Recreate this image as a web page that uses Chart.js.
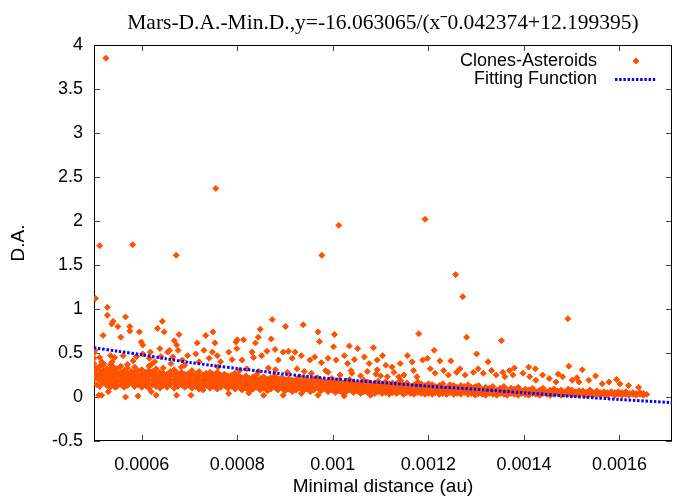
<!DOCTYPE html>
<html>
<head>
<meta charset="utf-8">
<script src="https://cdn.jsdelivr.net/npm/chart.js@4.4.0/dist/chart.umd.min.js"></script>
<style>
  html, body { margin: 0; padding: 0; background: #ffffff; }
  canvas { display: block; }
</style>
</head>
<body>
<canvas id="c" width="677" height="496"></canvas>
<script>
// ---------------- data ----------------
const chartTitle = 'Mars-D.A.-Min.D.,y=-16.063065/(x\u02C90.042374+12.199395)';
const xAxisLabel = 'Minimal distance (au)';
const yAxisLabel = 'D.A.';
const seriesNames = ['Clones-Asteroids', 'Fitting Function'];

// isolated high values  [minimal distance, D.A.]
const outlierPoints = [
  [5.25e-4, 3.85], [5.12e-4, 1.72], [5.81e-4, 1.73], [6.72e-4, 1.61], [7.55e-4, 2.37],
  [9.77e-4, 1.61], [1.0125e-3, 1.95], [1.193e-3, 2.02], [1.257e-3, 1.39], [1.272e-3, 1.14],
  [1.492e-3, 0.89], [5.03e-4, 1.12]
];

// sparse points above the dense band
const upperPoints = [
  [5.28e-4, 1.02], [5.28e-4, 0.93], [5.40e-4, 0.86], [5.37e-4, 0.83], [5.50e-4, 0.80],
  [5.66e-4, 0.91], [5.75e-4, 0.80], [5.75e-4, 0.75], [5.95e-4, 0.74], [5.19e-4, 0.70],
  [5.56e-4, 0.68], [5.99e-4, 0.625], [6.02e-4, 0.59], [6.18e-4, 0.51], [6.43e-4, 0.86],
  [6.33e-4, 0.78], [6.47e-4, 0.74], [6.78e-4, 0.71], [6.68e-4, 0.64], [6.73e-4, 0.59],
  [6.76e-4, 0.53], [6.38e-4, 0.55], [6.58e-4, 0.53], [7.16e-4, 0.615], [7.34e-4, 0.70],
  [7.49e-4, 0.74], [7.53e-4, 0.615], [7.97e-4, 0.625], [8.00e-4, 0.65], [8.13e-4, 0.65],
  [8.48e-4, 0.77], [8.44e-4, 0.68], [8.38e-4, 0.615], [8.73e-4, 0.88], [8.71e-4, 0.66],
  [9.01e-4, 0.80], [9.38e-4, 0.82], [9.69e-4, 0.74], [9.72e-4, 0.63], [1.0035e-3, 0.71],
  [1.0015e-3, 0.57], [1.0346e-3, 0.58], [1.052e-3, 0.55], [1.085e-3, 0.56],
  [5.02e-4, 0.53], [5.12e-4, 0.45], [5.16e-4, 0.40], [5.35e-4, 0.47], [5.43e-4, 0.45],
  [5.38e-4, 0.40], [5.61e-4, 0.47], [5.82e-4, 0.41], [5.89e-4, 0.46], [6.02e-4, 0.49],
  [6.16e-4, 0.44], [6.27e-4, 0.40], [6.40e-4, 0.46], [6.54e-4, 0.51], [6.65e-4, 0.455],
  [6.61e-4, 0.38], [6.85e-4, 0.42], [6.96e-4, 0.47], [7.13e-4, 0.49], [7.20e-4, 0.40],
  [7.30e-4, 0.53], [7.41e-4, 0.44], [7.48e-4, 0.51], [7.58e-4, 0.47], [7.65e-4, 0.40],
  [7.82e-4, 0.51], [7.89e-4, 0.425], [7.99e-4, 0.55], [8.10e-4, 0.42], [8.31e-4, 0.51],
  [8.34e-4, 0.45], [8.51e-4, 0.47], [8.62e-4, 0.52], [8.79e-4, 0.54], [8.86e-4, 0.42],
  [8.96e-4, 0.51], [9.07e-4, 0.52], [9.21e-4, 0.51], [9.15e-4, 0.44], [9.34e-4, 0.47],
  [9.52e-4, 0.42], [9.62e-4, 0.455], [9.76e-4, 0.39], [9.90e-4, 0.44], [1.007e-3, 0.42],
  [1.024e-3, 0.47], [1.031e-3, 0.38], [1.045e-3, 0.425], [1.066e-3, 0.455], [1.076e-3, 0.38],
  [1.093e-3, 0.42], [1.104e-3, 0.47],
  [5.20e-4, 0.38], [5.70e-4, 0.37], [6.20e-4, 0.37], [6.90e-4, 0.36], [7.60e-4, 0.34],
  [8.20e-4, 0.32], [8.80e-4, 0.31], [9.40e-4, 0.29], [9.90e-4, 0.28], [1.04e-3, 0.27],
  [1.09e-3, 0.26], [8.05e-4, 0.30], [8.45e-4, 0.29], [8.65e-4, 0.33], [9.05e-4, 0.28],
  [9.25e-4, 0.32], [9.55e-4, 0.27], [9.85e-4, 0.30], [1.015e-3, 0.25], [1.038e-3, 0.30],
  [1.058e-3, 0.24], [1.072e-3, 0.29], [1.10e-3, 0.24],
  [1.180e-3, 0.72], [1.280e-3, 0.68], [1.353e-3, 0.64], [1.156e-3, 0.47], [1.212e-3, 0.53],
  [1.301e-3, 0.49], [1.166e-3, 0.40], [1.188e-3, 0.42], [1.198e-3, 0.44], [1.224e-3, 0.41],
  [1.247e-3, 0.41], [1.325e-3, 0.40], [1.111e-3, 0.36], [1.124e-3, 0.34], [1.141e-3, 0.38],
  [1.410e-3, 0.34], [1.424e-3, 0.32], [1.380e-3, 0.33], [1.370e-3, 0.30], [1.472e-3, 0.26],
  [1.494e-3, 0.35], [1.522e-3, 0.31], [1.550e-3, 0.24], [1.594e-3, 0.20], [1.601e-3, 0.15],
  [1.511e-3, 0.22], [1.093e-3, 0.31], [1.138e-3, 0.23], [1.142e-3, 0.19],
  [1.114e-3, 0.23], [1.128e-3, 0.28], [1.149e-3, 0.25], [1.169e-3, 0.30], [1.176e-3, 0.23],
  [1.204e-3, 0.32], [1.214e-3, 0.27], [1.232e-3, 0.30], [1.242e-3, 0.25], [1.259e-3, 0.28],
  [1.266e-3, 0.32], [1.277e-3, 0.25], [1.294e-3, 0.28], [1.304e-3, 0.32], [1.315e-3, 0.27],
  [1.332e-3, 0.30], [1.342e-3, 0.25], [1.356e-3, 0.28], [1.360e-3, 0.23], [1.377e-3, 0.25],
  [1.398e-3, 0.27], [1.412e-3, 0.23], [1.425e-3, 0.19], [1.439e-3, 0.25], [1.453e-3, 0.21],
  [1.467e-3, 0.17], [1.481e-3, 0.23], [1.501e-3, 0.19], [1.515e-3, 0.17], [1.536e-3, 0.19],
  [1.564e-3, 0.15], [1.578e-3, 0.17], [1.619e-3, 0.13], [1.640e-3, 0.11]
];

// sparse points below the dense band
const lowPoints = [
  [5.10e-4, 0.02], [5.16e-4, 0.02], [5.30e-4, 0.06], [5.44e-4, 0.11], [5.66e-4, 0.0],
  [5.92e-4, 0.01], [6.20e-4, 0.06], [6.30e-4, 0.02], [6.73e-4, 0.02], [7.03e-4, 0.02],
  [7.28e-4, 0.08], [7.82e-4, 0.04], [8.24e-4, 0.045], [8.55e-4, 0.02], [8.96e-4, 0.02],
  [9.34e-4, 0.04], [9.69e-4, 0.02], [1.024e-3, 0.01], [1.079e-3, 0.02]
];

// dense band: [minimal distance, [D.A. values]]
const bandColumns = [
  [5.00e-4, [0.20, 0.26, 0.31, 0.38, 0.44, 0.50]],
  [5.06e-4, [0.14, 0.22, 0.27, 0.33]],
  [5.12e-4, [0.12, 0.19, 0.24, 0.29, 0.35]],
  [5.19e-4, [0.16, 0.21, 0.26, 0.30, 0.36]],
  [5.27e-4, [0.13, 0.18, 0.23, 0.28, 0.32]],
  [5.34e-4, [0.11, 0.17, 0.22, 0.27, 0.31, 0.37]],
  [5.41e-4, [0.15, 0.20, 0.25, 0.29, 0.34]],
  [5.48e-4, [0.12, 0.18, 0.23, 0.27, 0.32]],
  [5.56e-4, [0.14, 0.19, 0.24, 0.28, 0.35]],
  [5.63e-4, [0.11, 0.17, 0.21, 0.26, 0.30]],
  [5.70e-4, [0.13, 0.18, 0.22, 0.27, 0.33]],
  [5.78e-4, [0.16, 0.20, 0.25, 0.29]],
  [5.85e-4, [0.12, 0.17, 0.23, 0.28, 0.34]],
  [5.92e-4, [0.14, 0.19, 0.24, 0.30]],
  [6.00e-4, [0.11, 0.16, 0.21, 0.26, 0.31]],
  [6.08e-4, [0.13, 0.18, 0.23, 0.28]],
  [6.15e-4, [0.10, 0.15, 0.20, 0.25, 0.30, 0.35]],
  [6.23e-4, [0.14, 0.19, 0.24, 0.29]],
  [6.30e-4, [0.12, 0.17, 0.22, 0.27, 0.32]],
  [6.38e-4, [0.10, 0.15, 0.20, 0.24, 0.28]],
  [6.45e-4, [0.13, 0.18, 0.23, 0.27, 0.33]],
  [6.53e-4, [0.11, 0.16, 0.21, 0.26]],
  [6.60e-4, [0.14, 0.19, 0.24, 0.29]],
  [6.68e-4, [0.10, 0.15, 0.20, 0.25, 0.31]],
  [6.75e-4, [0.12, 0.17, 0.22, 0.27]],
  [6.83e-4, [0.14, 0.19, 0.23, 0.28, 0.34]],
  [6.90e-4, [0.11, 0.16, 0.21, 0.26]],
  [6.98e-4, [0.13, 0.18, 0.22, 0.27]],
  [7.05e-4, [0.10, 0.15, 0.20, 0.25, 0.30]],
  [7.13e-4, [0.12, 0.17, 0.21, 0.26]],
  [7.20e-4, [0.09, 0.14, 0.19, 0.24, 0.29]],
  [7.28e-4, [0.11, 0.16, 0.20, 0.25]],
  [7.35e-4, [0.13, 0.18, 0.22, 0.27]],
  [7.43e-4, [0.10, 0.15, 0.19, 0.24, 0.28]],
  [7.50e-4, [0.12, 0.17, 0.21, 0.26]],
  [7.58e-4, [0.09, 0.14, 0.18, 0.23, 0.28]],
  [7.65e-4, [0.11, 0.16, 0.20, 0.25]],
  [7.73e-4, [0.13, 0.17, 0.22, 0.26]],
  [7.80e-4, [0.10, 0.14, 0.19, 0.24]],
  [7.88e-4, [0.12, 0.16, 0.21, 0.25]],
  [7.95e-4, [0.09, 0.13, 0.18, 0.23, 0.27]],
  [8.03e-4, [0.11, 0.15, 0.20, 0.24]],
  [8.10e-4, [0.08, 0.13, 0.17, 0.22]],
  [8.18e-4, [0.10, 0.14, 0.19, 0.24]],
  [8.25e-4, [0.07, 0.12, 0.16, 0.21]],
  [8.33e-4, [0.09, 0.14, 0.18, 0.23]],
  [8.40e-4, [0.11, 0.15, 0.20, 0.25]],
  [8.48e-4, [0.08, 0.12, 0.17, 0.21]],
  [8.55e-4, [0.10, 0.14, 0.18, 0.23]],
  [8.63e-4, [0.07, 0.12, 0.16, 0.20]],
  [8.70e-4, [0.09, 0.13, 0.17, 0.22]],
  [8.78e-4, [0.11, 0.15, 0.19, 0.24]],
  [8.85e-4, [0.08, 0.12, 0.16, 0.21]],
  [8.93e-4, [0.10, 0.14, 0.18, 0.22]],
  [9.00e-4, [0.07, 0.11, 0.15, 0.20]],
  [9.08e-4, [0.09, 0.13, 0.17, 0.21]],
  [9.15e-4, [0.06, 0.10, 0.14, 0.19]],
  [9.23e-4, [0.08, 0.12, 0.16, 0.20]],
  [9.30e-4, [0.10, 0.14, 0.18, 0.23]],
  [9.38e-4, [0.07, 0.11, 0.15, 0.19]],
  [9.45e-4, [0.09, 0.13, 0.17, 0.21]],
  [9.53e-4, [0.06, 0.10, 0.14, 0.18]],
  [9.60e-4, [0.08, 0.12, 0.16, 0.20]],
  [9.68e-4, [0.10, 0.14, 0.18, 0.22]],
  [9.75e-4, [0.07, 0.11, 0.15, 0.19]],
  [9.83e-4, [0.09, 0.13, 0.17]],
  [9.90e-4, [0.06, 0.10, 0.14, 0.18]],
  [9.98e-4, [0.08, 0.12, 0.16, 0.21]],
  [1.005e-3, [0.05, 0.09, 0.13, 0.17]],
  [1.013e-3, [0.07, 0.11, 0.15, 0.19]],
  [1.020e-3, [0.05, 0.09, 0.12, 0.16]],
  [1.028e-3, [0.06, 0.10, 0.14, 0.18]],
  [1.035e-3, [0.08, 0.12, 0.16, 0.20]],
  [1.043e-3, [0.05, 0.09, 0.13, 0.17]],
  [1.050e-3, [0.07, 0.11, 0.15]],
  [1.058e-3, [0.04, 0.08, 0.12, 0.16]],
  [1.065e-3, [0.06, 0.10, 0.14, 0.19]],
  [1.073e-3, [0.05, 0.09, 0.13, 0.17]],
  [1.080e-3, [0.07, 0.11, 0.15]],
  [1.088e-3, [0.04, 0.08, 0.12, 0.16]],
  [1.095e-3, [0.06, 0.10, 0.14, 0.18]],
  [1.103e-3, [0.04, 0.08, 0.12, 0.15]],
  [1.110e-3, [0.05, 0.09, 0.13, 0.17]],
  [1.118e-3, [0.03, 0.07, 0.11, 0.15]],
  [1.125e-3, [0.05, 0.09, 0.12, 0.16]],
  [1.133e-3, [0.04, 0.08, 0.11, 0.15]],
  [1.140e-3, [0.06, 0.10, 0.14, 0.18]],
  [1.148e-3, [0.03, 0.07, 0.11, 0.14]],
  [1.155e-3, [0.05, 0.09, 0.13, 0.16]],
  [1.163e-3, [0.04, 0.08, 0.12]],
  [1.170e-3, [0.03, 0.07, 0.10, 0.14]],
  [1.178e-3, [0.05, 0.09, 0.13, 0.17]],
  [1.185e-3, [0.04, 0.08, 0.11, 0.15]],
  [1.193e-3, [0.03, 0.06, 0.10, 0.13]],
  [1.200e-3, [0.04, 0.08, 0.12, 0.15]],
  [1.208e-3, [0.03, 0.07, 0.10, 0.14]],
  [1.215e-3, [0.05, 0.09, 0.12]],
  [1.223e-3, [0.03, 0.06, 0.10, 0.13]],
  [1.230e-3, [0.04, 0.08, 0.11, 0.15]],
  [1.238e-3, [0.03, 0.07, 0.10]],
  [1.245e-3, [0.05, 0.08, 0.12, 0.14]],
  [1.253e-3, [0.03, 0.06, 0.09, 0.13]],
  [1.260e-3, [0.04, 0.08, 0.11]],
  [1.268e-3, [0.03, 0.06, 0.10, 0.13]],
  [1.275e-3, [0.05, 0.08, 0.12]],
  [1.283e-3, [0.03, 0.07, 0.10, 0.14]],
  [1.290e-3, [0.04, 0.08, 0.11]],
  [1.298e-3, [0.02, 0.06, 0.09, 0.12]],
  [1.305e-3, [0.04, 0.07, 0.10, 0.13]],
  [1.313e-3, [0.03, 0.06, 0.09]],
  [1.320e-3, [0.02, 0.05, 0.08, 0.11]],
  [1.328e-3, [0.04, 0.07, 0.10]],
  [1.335e-3, [0.03, 0.06, 0.09, 0.12]],
  [1.343e-3, [0.02, 0.05, 0.08]],
  [1.350e-3, [0.04, 0.07, 0.10]],
  [1.358e-3, [0.03, 0.06, 0.09, 0.12]],
  [1.365e-3, [0.02, 0.05, 0.08]],
  [1.373e-3, [0.04, 0.07, 0.10]],
  [1.380e-3, [0.03, 0.06, 0.09]],
  [1.388e-3, [0.02, 0.05, 0.08, 0.11]],
  [1.395e-3, [0.04, 0.07]],
  [1.403e-3, [0.03, 0.06, 0.09]],
  [1.410e-3, [0.02, 0.05, 0.08]],
  [1.418e-3, [0.04, 0.07, 0.10]],
  [1.425e-3, [0.03, 0.06]],
  [1.433e-3, [0.02, 0.05, 0.08]],
  [1.440e-3, [0.04, 0.07, 0.10]],
  [1.448e-3, [0.03, 0.06]],
  [1.455e-3, [0.02, 0.05, 0.08]],
  [1.463e-3, [0.03, 0.06, 0.09]],
  [1.470e-3, [0.04, 0.07]],
  [1.478e-3, [0.02, 0.05, 0.08]],
  [1.485e-3, [0.03, 0.06]],
  [1.493e-3, [0.04, 0.07, 0.09]],
  [1.500e-3, [0.02, 0.05, 0.08]],
  [1.508e-3, [0.03, 0.06]],
  [1.515e-3, [0.02, 0.05, 0.07]],
  [1.523e-3, [0.04, 0.07]],
  [1.530e-3, [0.02, 0.05]],
  [1.538e-3, [0.03, 0.06, 0.08]],
  [1.545e-3, [0.02, 0.05]],
  [1.553e-3, [0.04, 0.07]],
  [1.560e-3, [0.02, 0.05]],
  [1.568e-3, [0.03, 0.06]],
  [1.575e-3, [0.02, 0.05]],
  [1.583e-3, [0.04, 0.06]],
  [1.590e-3, [0.02, 0.05]],
  [1.598e-3, [0.03, 0.06]],
  [1.605e-3, [0.02, 0.05]],
  [1.613e-3, [0.03, 0.06]],
  [1.620e-3, [0.02, 0.04]],
  [1.628e-3, [0.03, 0.05]],
  [1.635e-3, [0.02, 0.04]],
  [1.643e-3, [0.03, 0.05]],
  [1.650e-3, [0.02, 0.04]],
  [1.657e-3, [0.03]]
];

// fitted curve
const fitX = [5.0e-4, 5.5e-4, 6.0e-4, 6.5e-4, 7.0e-4, 7.5e-4, 8.0e-4, 8.5e-4, 9.0e-4, 9.5e-4,
              1.0e-3, 1.05e-3, 1.1e-3, 1.2e-3, 1.3e-3, 1.4e-3, 1.5e-3, 1.6e-3, 1.71e-3];
const fitY = [0.56, 0.52, 0.48, 0.435, 0.393, 0.357, 0.325, 0.293, 0.26, 0.232,
              0.207, 0.186, 0.165, 0.122, 0.088, 0.048, 0.008, -0.028, -0.064];

// axis ranges / ticks
const xRange = [0.0005, 0.00171];
const xStep = 0.0002;
const yRange = [-0.5, 4];
const yStep = 0.5;

// ---------------- build the chart ----------------
const ORANGE = '#ff5200';
const BLUE = '#0000ff';
const SANS = '"Liberation Sans", Arial, sans-serif';
const SERIF = '"Liberation Serif", "Times New Roman", serif';

const clonePoints = [];
outlierPoints.concat(upperPoints, lowPoints).forEach(p => clonePoints.push({x: p[0], y: p[1]}));
bandColumns.forEach(col => col[1].forEach(v => clonePoints.push({x: col[0], y: v})));
const fitPoints = fitX.map((x, i) => ({x: x, y: fitY[i]}));

const fmt = v => String(+Number(v).toFixed(6));

function drawDiamond(ctx, x, y, r) {
  ctx.beginPath();
  ctx.moveTo(x, y - r); ctx.lineTo(x + r, y); ctx.lineTo(x, y + r); ctx.lineTo(x - r, y);
  ctx.closePath();
  ctx.fill(); ctx.stroke();
}

const framePlugin = {
  id: 'frame',
  beforeDatasetsDraw(chart) {
    const {ctx, chartArea: a, scales} = chart;
    ctx.save();
    ctx.strokeStyle = '#444';
    ctx.lineWidth = 1;
    ctx.beginPath();
    scales.x.ticks.forEach(t => {
      const px = Math.round(scales.x.getPixelForValue(t.value)) + 0.5;
      ctx.moveTo(px, a.bottom); ctx.lineTo(px, a.bottom - 6);
      ctx.moveTo(px, a.top); ctx.lineTo(px, a.top + 6);
    });
    scales.y.ticks.forEach(t => {
      const py = Math.round(scales.y.getPixelForValue(t.value)) + 0.5;
      ctx.moveTo(a.left, py); ctx.lineTo(a.left + 6, py);
      ctx.moveTo(a.right, py); ctx.lineTo(a.right - 6, py);
    });
    ctx.stroke();
    ctx.strokeStyle = '#000';
    ctx.strokeRect(Math.round(a.left) + 0.5, Math.round(a.top) + 0.5,
                   Math.round(a.right - a.left) - 1, Math.round(a.bottom - a.top) - 1);
    ctx.restore();
  }
};

const keyPlugin = {
  id: 'gnuKey',
  afterDraw(chart) {
    const ctx = chart.ctx;
    ctx.save();
    ctx.font = '18px ' + SANS;
    ctx.textAlign = 'right';
    ctx.textBaseline = 'middle';
    chart.data.datasets.forEach((ds, i) => {
      const y = 61 + i * 18.5;
      ctx.fillStyle = '#000';
      ctx.fillText(ds.label, 597, y);
      if (ds.showLine) {
        ctx.strokeStyle = ds.borderColor;
        ctx.lineWidth = ds.borderWidth;
        ctx.setLineDash(ds.borderDash);
        ctx.beginPath(); ctx.moveTo(615, y); ctx.lineTo(657, y); ctx.stroke();
        ctx.setLineDash([]);
      } else {
        ctx.fillStyle = ds.backgroundColor;
        ctx.strokeStyle = ds.borderColor;
        ctx.lineWidth = 1;
        drawDiamond(ctx, 636, y, 3);
      }
    });
    ctx.restore();
  }
};

new Chart(document.getElementById('c'), {
  type: 'scatter',
  data: {
    datasets: [
      {
        label: seriesNames[0],
        data: clonePoints,
        pointStyle: 'rectRot',
        pointRadius: 3,
        pointBorderWidth: 1,
        backgroundColor: ORANGE,
        borderColor: ORANGE,
        showLine: false,
        order: 2
      },
      {
        label: seriesNames[1],
        type: 'line',
        data: fitPoints,
        showLine: true,
        borderColor: BLUE,
        backgroundColor: BLUE,
        borderWidth: 3,
        borderDash: [2.4, 1.8],
        pointRadius: 0,
        fill: false,
        tension: 0.3,
        order: 1
      }
    ]
  },
  options: {
    responsive: false,
    animation: false,
    events: [],
    layout: { padding: { right: 1 } },
    plugins: {
      legend: { display: false },
      tooltip: { enabled: false },
      title: {
        display: true,
        text: chartTitle,
        fullSize: false,
        color: '#000',
        font: { family: SERIF, size: 21.5, weight: 'normal', lineHeight: 1.2 },
        padding: { top: 10, bottom: 9.2 }
      }
    },
    scales: {
      x: {
        type: 'linear',
        min: xRange[0],
        max: xRange[1],
        grid: { display: false, drawTicks: false },
        border: { display: false },
        ticks: {
          stepSize: xStep,
          includeBounds: false,
          autoSkip: false,
          maxRotation: 0,
          padding: 13,
          color: '#000',
          font: { family: SANS, size: 18 },
          callback: fmt
        },
        title: {
          display: true,
          text: xAxisLabel,
          color: '#000',
          font: { family: SANS, size: 19, lineHeight: 1.0 },
          padding: { top: 0, bottom: 0 }
        },
        afterFit(scale) { scale.height = 55; }
      },
      y: {
        type: 'linear',
        min: yRange[0],
        max: yRange[1],
        grid: { display: false, drawTicks: false },
        border: { display: false },
        ticks: {
          stepSize: yStep,
          includeBounds: false,
          autoSkip: false,
          padding: 11,
          color: '#000',
          font: { family: SANS, size: 18 },
          callback: fmt
        },
        title: {
          display: true,
          text: yAxisLabel,
          color: '#000',
          font: { family: SANS, size: 19, lineHeight: 1.2 },
          padding: { top: 7.6, bottom: 0 }
        },
        afterFit(scale) { scale.width = 94; }
      }
    }
  },
  plugins: [framePlugin, keyPlugin]
});
</script>
</body>
</html>
